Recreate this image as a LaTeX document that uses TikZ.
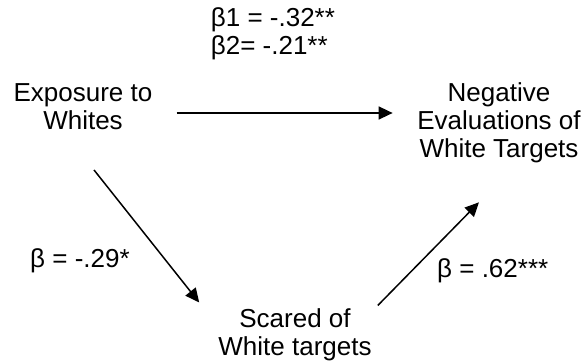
\documentclass[tikz,border=0pt]{standalone}
\usepackage{fontspec}
\setmainfont{Liberation Sans}
\usetikzlibrary{arrows.meta,positioning}

\begin{document}
\begin{tikzpicture}[
  x=1pt, y=1pt,
  var/.style={align=center, inner sep=0pt, font=\fontsize{26}{28}\selectfont},
  coef/.style={align=left, inner sep=0pt, font=\fontsize{26}{28}\selectfont},
  arrow/.style={-{Triangle[length=14pt,width=13pt]}, line width=1.5pt},
]
  \useasboundingbox (0,0) rectangle (587,364);

  % Variables
  \node[var] (expo) at (83,257.3) {Exposure to\\Whites};
  \node[var] (neg) at (499,241.5) {Negative\\Evaluations of\\White Targets};
  \node[var] (scared) at (295,29.2) {Scared of\\White targets};

  % Coefficients
  \node[coef, anchor=west] (direct) at (210.7,329.8) {β1 = -.32**\\β2= -.21**};
  \node[coef, anchor=base west] (pathA) at (30,96) {β = -.29*};
  \node[coef, anchor=base west] (pathB) at (437,86) {β = .62***};

  % Paths
  \draw[arrow, shorten <=24pt, shorten >=24.5pt]
    ([yshift=-6.3pt]expo.east) -- ([yshift=-6.3pt]expo.east -| neg.west);
  \draw[arrow] ([xshift=11pt,yshift=-40pt]expo.south)
    -- ([xshift=-19pt,yshift=6pt]scared.north west);
  \draw[arrow] ([xshift=6pt,yshift=3pt]scared.north east)
    -- ([xshift=-20pt,yshift=-39.5pt]neg.south);
\end{tikzpicture}
\end{document}
